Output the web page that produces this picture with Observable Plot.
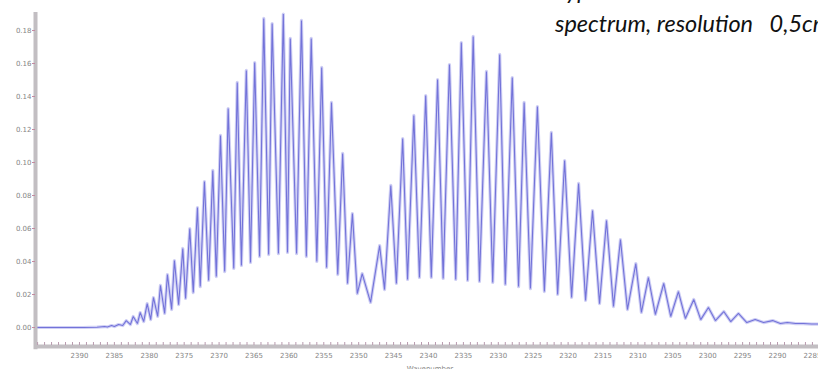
<!DOCTYPE html>
<html>
<head>
<meta charset="utf-8">
<script src="https://cdn.jsdelivr.net/npm/d3@7"></script>
<script src="https://cdn.jsdelivr.net/npm/@observablehq/plot@0.6"></script>
<style>
  html, body { margin: 0; padding: 0; background: #fff; }
  #wrap { position: relative; width: 818px; height: 369px; overflow: hidden; }
</style>
</head>
<body>
<div id="wrap"></div>
<script>
// ---- data (wavenumber cm-1, absorbance) ----
const baseWn  = [2396.3, 2389.5, 2387.5];
const baseAbs = [0.0, 0.0, 0.0002];

const peakWn = [
  2386.4, 2385.4, 2384.4, 2383.3, 2382.3, 2381.3, 2380.3, 2379.4, 2378.4, 2377.4,
  2376.4, 2375.2, 2374.2, 2373.1, 2372.1, 2370.9, 2369.8, 2368.7, 2367.4, 2366.1,
  2364.9, 2363.6, 2362.4, 2360.8, 2359.8, 2358.2, 2356.8, 2355.3, 2353.9, 2352.3,
  2350.9, 2349.5,
  2347.0, 2345.4, 2343.7, 2342.1, 2340.4, 2338.7, 2337.0, 2335.3, 2333.6, 2331.7,
  2329.8, 2328.0, 2326.3, 2324.4, 2322.4, 2320.5, 2318.5, 2316.5, 2314.5, 2312.5,
  2310.3, 2308.5, 2306.3, 2304.2, 2302.0, 2299.9, 2297.7, 2295.6, 2293.2, 2290.7,
  2288.6, 2286.3
];
const peakAbs = [
  0.0006, 0.0012, 0.0018, 0.0042, 0.0067, 0.0091, 0.0145, 0.0182, 0.0255, 0.0321,
  0.0406, 0.0479, 0.0600, 0.0727, 0.0885, 0.0952, 0.1164, 0.1327, 0.1485, 0.1558,
  0.1606, 0.1873, 0.1842, 0.1900, 0.1752, 0.1861, 0.1752, 0.1576, 0.1364, 0.1055,
  0.0691, 0.0327,
  0.0497, 0.0861, 0.1145, 0.1285, 0.1406, 0.1503, 0.1594, 0.1727, 0.1764, 0.1552,
  0.1655, 0.1515, 0.1364, 0.1339, 0.1182, 0.1012, 0.0873, 0.0709, 0.0648, 0.0533,
  0.0388, 0.0303, 0.0267, 0.0218, 0.0170, 0.0121, 0.0097, 0.0085, 0.0048, 0.0042,
  0.0030, 0.0024
];

const valleyWn = [
  2386.0, 2385.0, 2383.8, 2382.7, 2381.7, 2380.8, 2379.8, 2378.8, 2377.8, 2376.8,
  2375.8, 2374.8, 2373.7, 2372.7, 2371.5, 2370.4, 2369.2, 2367.9, 2366.8, 2365.5,
  2364.2, 2362.9, 2361.5, 2360.2, 2358.9, 2357.5, 2356.0, 2354.6, 2353.0, 2351.6,
  2350.2, 2348.3,
  2346.3, 2344.6, 2343.0, 2341.3, 2339.6, 2337.9, 2336.1, 2334.4, 2332.7, 2330.8,
  2329.0, 2327.1, 2325.4, 2323.4, 2321.5, 2319.5, 2317.5, 2315.5, 2313.5, 2311.5,
  2309.5, 2307.5, 2305.3, 2303.2, 2301.0, 2298.9, 2296.7, 2294.4, 2292.0, 2289.6,
  2287.4, 2285.1, 2284.0
];
const valleyAbs = [
  0.0003, 0.0006, 0.0012, 0.0018, 0.0024, 0.0036, 0.0048, 0.0067, 0.0085, 0.0109,
  0.0139, 0.0176, 0.0212, 0.0248, 0.0285, 0.0309, 0.0339, 0.0358, 0.0376, 0.0394,
  0.0430, 0.0442, 0.0448, 0.0455, 0.0448, 0.0430, 0.0400, 0.0364, 0.0321, 0.0267,
  0.0206, 0.0152,
  0.0230, 0.0267, 0.0291, 0.0303, 0.0303, 0.0297, 0.0291, 0.0285, 0.0279, 0.0273,
  0.0261, 0.0248, 0.0236, 0.0218, 0.0200, 0.0182, 0.0164, 0.0145, 0.0127, 0.0109,
  0.0091, 0.0079, 0.0067, 0.0055, 0.0048, 0.0042, 0.0036, 0.0030, 0.0030, 0.0024,
  0.0024, 0.0021, 0.0021
];

const xTicks = [2390, 2385, 2380, 2375, 2370, 2365, 2360, 2355, 2350, 2345, 2340,
                2335, 2330, 2325, 2320, 2315, 2310, 2305, 2300, 2295, 2290, 2285];
const xMinor = d3.range(2396, 2283, -1);
const yTicks = [0, 0.02, 0.04, 0.06, 0.08, 0.10, 0.12, 0.14, 0.16, 0.18];

const titleLines = ["Typical", "spectrum, resolution   0,5cm-1"];
const xLabel = "Wavenumber";

// ---- build spectrum table ----
const pts = [];
baseWn.forEach((w, i) => pts.push({wn: w, a: baseAbs[i]}));
peakWn.forEach((w, i) => pts.push({wn: w, a: peakAbs[i]}));
valleyWn.forEach((w, i) => pts.push({wn: w, a: valleyAbs[i]}));
pts.sort((p, q) => q.wn - p.wn);

const yMin = -0.0115, yMax = 0.1909;

const chart = Plot.plot({
  width: 818,
  height: 369,
  marginLeft: 35,
  marginRight: 0,
  marginTop: 12,
  marginBottom: 23,
  style: {fontFamily: "DejaVu Sans, sans-serif", background: "transparent"},
  x: {domain: [2396.3, 2284.13], range: [35, 818], label: null},
  y: {domain: [yMin, yMax], label: null},
  marks: [
    // spectrum (halo + core)
    Plot.line(pts, {x: "wn", y: "a", stroke: "#cfcff4", strokeWidth: 3.2, strokeLinejoin: "round"}),
    Plot.line(pts, {x: "wn", y: "a", stroke: "#7373d9", strokeWidth: 1.1, strokeLinejoin: "miter"}),
    // axis bars
    Plot.ruleY([yMin], {stroke: "#c2bec2", strokeWidth: 4}),
    Plot.ruleX([2396.3], {y1: yMin - 0.002, y2: yMax, stroke: "#c2bec2", strokeWidth: 4}),
    // minor ticks on x bar
    Plot.axisX(xMinor, {tickSize: 3, tickPadding: 0, tickFormat: () => "", stroke: "#b89aae", dy: -4, label: null}),
    // x tick labels
    Plot.axisX(xTicks, {tickSize: 0, tickPadding: 7, fontSize: 7, fill: "#858585", tickFormat: d => String(d), label: null}),
    // y ticks
    Plot.axisY(yTicks, {tickSize: 3, tickPadding: 1, fontSize: 7, fill: "#858585", stroke: "#c48aa0", tickFormat: d => d.toFixed(2), label: null})
  ]
});

document.getElementById("wrap").appendChild(chart);

const svg = d3.select(chart);
[[titleLines[0], -1], [titleLines[1], 32]].forEach(([t, y]) => {
  svg.append("text")
    .attr("x", 555).attr("y", y)
    .attr("text-anchor", "start")
    .attr("font-family", "Lato, 'Open Sans', sans-serif")
    .attr("font-style", "italic").attr("font-size", 23.5).attr("fill", "#111")
    .style("white-space", "pre")
    .text(t);
});
svg.append("text")
  .attr("x", 430).attr("y", 371)
  .attr("text-anchor", "middle")
  .attr("font-family", "DejaVu Sans, sans-serif")
  .attr("font-size", 7).attr("fill", "#858585")
  .text(xLabel);
</script>
</body>
</html>
